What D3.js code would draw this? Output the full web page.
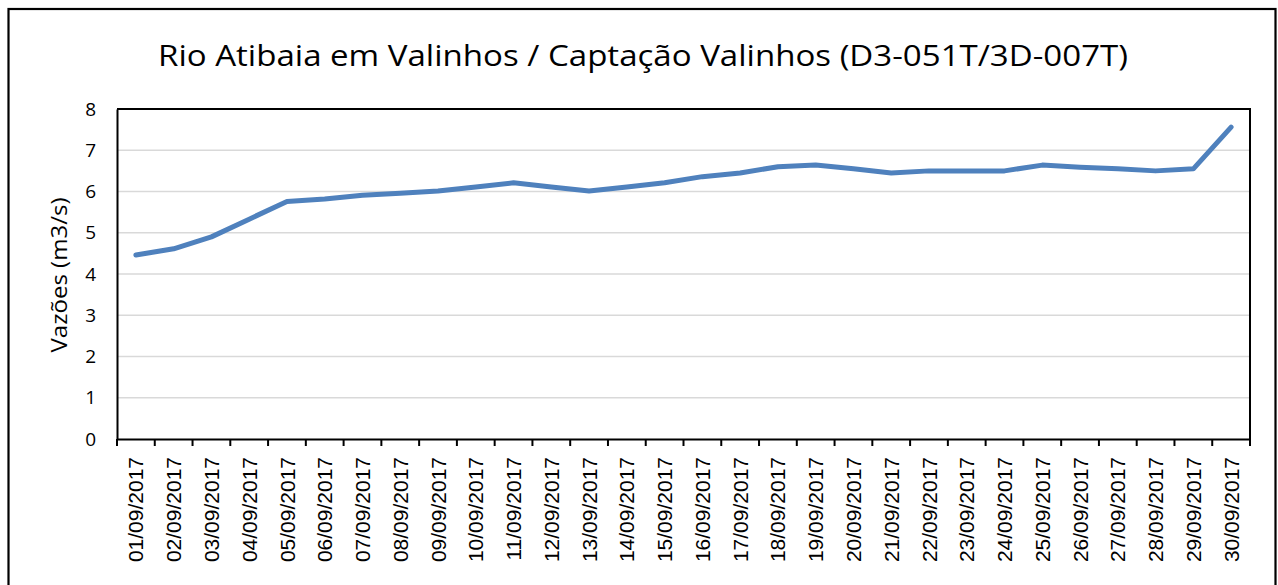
<!DOCTYPE html>
<html>
<head>
<meta charset="utf-8">
<script src="https://cdn.jsdelivr.net/npm/d3@7"></script>
<style>
  body { margin: 0; background: #fff; }
  svg { display: block; }
</style>
</head>
<body>
<script>
// daily flow, Sept 2017
const dates = ['01/09/2017', '02/09/2017', '03/09/2017', '04/09/2017', '05/09/2017', '06/09/2017',
  '07/09/2017', '08/09/2017', '09/09/2017', '10/09/2017', '11/09/2017', '12/09/2017',
  '13/09/2017', '14/09/2017', '15/09/2017', '16/09/2017', '17/09/2017', '18/09/2017',
  '19/09/2017', '20/09/2017', '21/09/2017', '22/09/2017', '23/09/2017', '24/09/2017',
  '25/09/2017', '26/09/2017', '27/09/2017', '28/09/2017', '29/09/2017', '30/09/2017']
const vazoes = [4.46, 4.61, 4.9, 5.33, 5.76, 5.82, 5.91, 5.96, 6.01, 6.11, 6.21, 6.11,
  6.01, 6.11, 6.21, 6.36, 6.45, 6.6, 6.64, 6.55, 6.45, 6.5, 6.5, 6.5,
  6.64, 6.59, 6.55, 6.5, 6.55, 7.56]
const yTicks = [0, 1, 2, 3, 4, 5, 6, 7, 8]

const title = 'Rio Atibaia em Valinhos / Captação Valinhos (D3-051T/3D-007T)'
const yTitle = 'Vazões (m3/s)'

const width = 1278
const height = 585
const plotLeft = 117, plotRight = 1250, plotTop = 109, plotBottom = 439

const svg = d3.select('body')
  .append('svg')
  .attr('width', width)
  .attr('height', height)

// outer chart frame (runs past the bottom of the picture)
svg.append('rect')
  .attr('x', 8.5)
  .attr('y', 9)
  .attr('width', 1267)
  .attr('height', 620)
  .attr('fill', 'none')
  .attr('stroke', '#000')
  .attr('stroke-width', 2.2)

const x = d3.scaleBand()
  .domain(dates)
  .range([plotLeft, plotRight])

const y = d3.scaleLinear()
  .domain([0, 8])
  .range([plotBottom, plotTop])

// gridlines
svg.append('g')
  .selectAll('line')
  .data(yTicks.filter(d => d > 0 && d < 8))
  .enter()
  .append('line')
  .attr('x1', plotLeft)
  .attr('x2', plotRight)
  .attr('y1', d => y(d))
  .attr('y2', d => y(d))
  .attr('stroke', '#d9d9d9')
  .attr('stroke-width', 1.6)

// plot area border (top + right)
svg.append('path')
  .attr('d', `M${plotLeft},${plotTop}H${plotRight}V${plotBottom}`)
  .attr('fill', 'none')
  .attr('stroke', '#000')
  .attr('stroke-width', 2)

const yAxis = d3.axisLeft(y)
  .tickValues(yTicks)
  .tickSize(0)
  .tickPadding(21)

const gy = svg.append('g')
  .attr('transform', 'translate(' + plotLeft + ',0)')
  .call(yAxis)
gy.select('.domain').attr('stroke', '#000').attr('stroke-width', 2)
gy.selectAll('text')
  .attr('font-family', '"Open Sans", sans-serif')
  .attr('font-size', '19px')
  .attr('fill', '#000')

// x axis: ticks on category boundaries
const xAxis = d3.axisBottom(x).tickSize(0).tickFormat('')
const gx = svg.append('g')
  .attr('transform', 'translate(0,' + plotBottom + ')')
  .call(xAxis)
gx.select('.domain').attr('stroke', '#000').attr('stroke-width', 2)
gx.selectAll('.tick').remove()

const bounds = dates.map(d => x(d)).concat([plotRight])
gx.selectAll('line.tk')
  .data(bounds)
  .enter()
  .append('line')
  .attr('class', 'tk')
  .attr('x1', d => d)
  .attr('x2', d => d)
  .attr('y1', 0)
  .attr('y2', 7)
  .attr('stroke', '#000')
  .attr('stroke-width', 2)

gx.selectAll('text.lbl')
  .data(dates)
  .enter()
  .append('text')
  .attr('class', 'lbl')
  .attr('transform', d => 'translate(' + (x(d) + x.bandwidth() / 2) + ',18) rotate(-90)')
  .attr('dy', '0.36em')
  .attr('text-anchor', 'end')
  .attr('font-family', '"Liberation Sans", Arial, sans-serif')
  .attr('font-size', '21px')
  .attr('fill', '#000')
  .text(d => d)

// the series
const line = d3.line()
  .x((d, i) => x(dates[i]) + x.bandwidth() / 2)
  .y(d => y(d))

svg.append('path')
  .datum(vazoes)
  .attr('d', line)
  .attr('fill', 'none')
  .attr('stroke', '#4f81bd')
  .attr('stroke-width', 5)
  .attr('stroke-linejoin', 'round')
  .attr('stroke-linecap', 'round')

svg.append('text')
  .attr('x', 643)
  .attr('y', 66)
  .attr('text-anchor', 'middle')
  .attr('font-family', '"Open Sans", sans-serif')
  .attr('font-size', '30px')
  .attr('textLength', 970)
  .attr('lengthAdjust', 'spacingAndGlyphs')
  .attr('fill', '#000')
  .text(title)

svg.append('text')
  .attr('transform', 'translate(60,275) rotate(-90)')
  .attr('dy', '0.35em')
  .attr('text-anchor', 'middle')
  .attr('font-family', '"Open Sans", sans-serif')
  .attr('font-size', '21px')
  .attr('textLength', 155)
  .attr('lengthAdjust', 'spacingAndGlyphs')
  .attr('fill', '#000')
  .text(yTitle)
</script>
</body>
</html>
